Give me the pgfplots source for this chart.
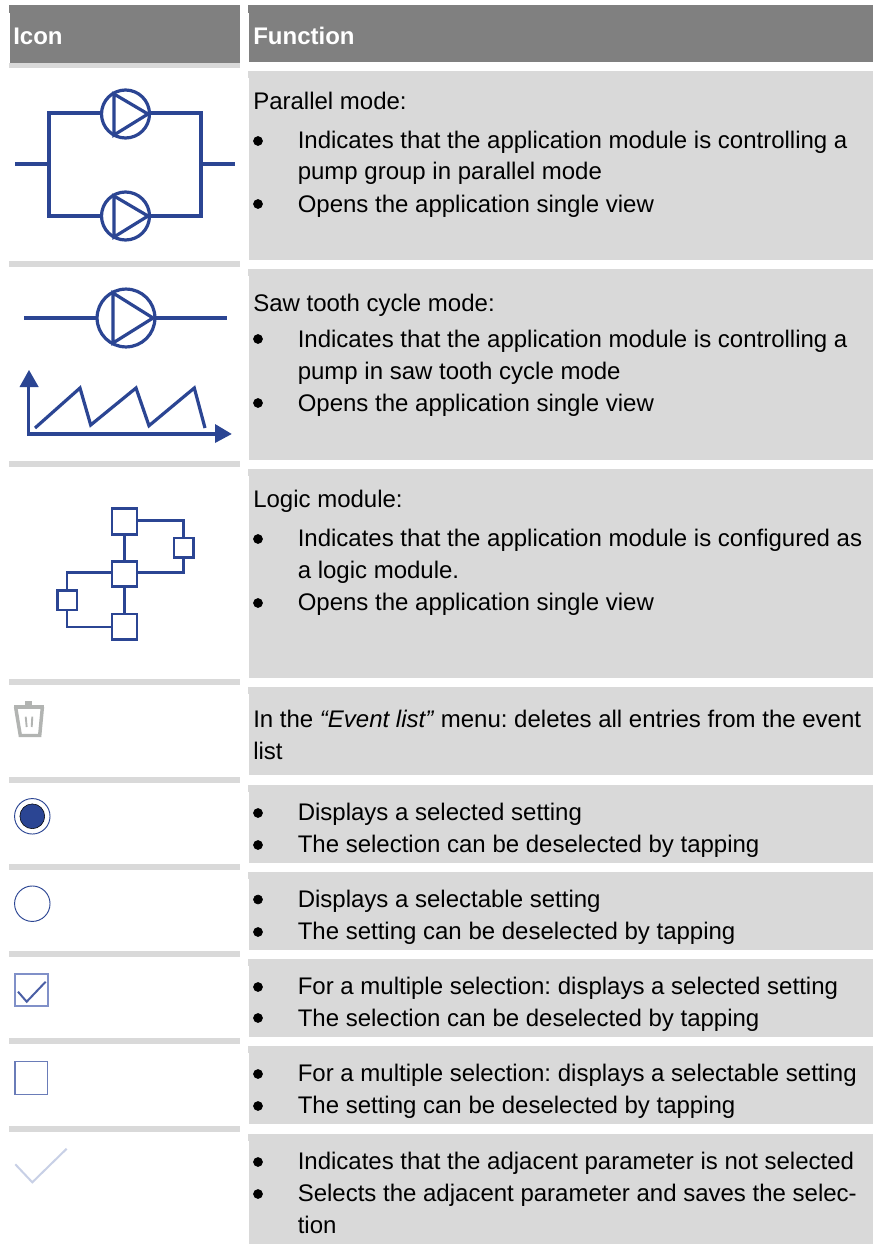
\documentclass[border=0pt]{standalone}
\usepackage{fontspec}
\setmainfont{Liberation Sans}
\usepackage{pgfplots}
\pgfplotsset{compat=1.18}
\definecolor{hd}{HTML}{808080}
\definecolor{cell}{HTML}{D9D9D9}
\definecolor{ic}{HTML}{2B4593}
\definecolor{trash}{HTML}{B2B4B2}
\frenchspacing
\newcommand{\fs}{\fontsize{18}{20}\selectfont}
\newcommand{\tx}[3]{\node[anchor=base west,inner sep=0pt,font=\fs,text=black] at (axis cs:#1,#2) {#3};}
\newcommand{\rect}[5]{\addplot[fill=#5,draw=none,forget plot] coordinates {(#1,#2)(#3,#2)(#3,#4)(#1,#4)} -- cycle;}
\newcommand{\cellbox}[2]{\rect{248}{#1}{873}{#1+7}{cell}\rect{249}{#1}{873}{#2}{cell}}
\begin{document}
\begin{tikzpicture}
\begin{axis}[
  scale only axis,width=654.75pt,height=933pt,
  xmin=0,xmax=873,ymin=0,ymax=1244,y dir=reverse,
  axis lines=none,ticks=none,clip=true]
\rect{0}{0}{873}{1244}{white}
% headers
\rect{9}{5}{240}{13}{hd}\rect{10}{5}{240}{63}{hd}
\rect{248}{5}{873}{13}{hd}\rect{249}{5}{873}{62}{hd}
% left separators
\rect{9}{63}{240}{68}{cell}
\rect{9}{261}{240}{267}{cell}
\rect{9}{461}{240}{467}{cell}
\rect{9}{679}{240}{685}{cell}
\rect{9}{777}{240}{783}{cell}
\rect{9}{864}{240}{870}{cell}
\rect{9}{951}{240}{957}{cell}
\rect{9}{1038}{240}{1044}{cell}
\rect{9}{1126}{240}{1132}{cell}
% right cells
\cellbox{71}{260}
\cellbox{269}{460}
\cellbox{469}{678}
\cellbox{687}{775}
\cellbox{785}{863}
\cellbox{872}{950}
\cellbox{959}{1037}
\cellbox{1046}{1124}
\cellbox{1134}{1244}
% parallel icon
\addplot[ic,line width=2.4pt,forget plot] coordinates {(100,113)(49,113)(49,216)(100,216)};
\addplot[ic,line width=2.4pt,forget plot] coordinates {(151,113)(201,113)(201,216)(151,216)};
\addplot[ic,line width=2.4pt,forget plot] coordinates {(15,164)(49,164)};
\addplot[ic,line width=2.4pt,forget plot] coordinates {(201,164)(235,164)};
\addplot[only marks,mark=o,mark size=18pt,mark options={draw=ic,line width=2.4pt},forget plot] coordinates {(125.5,114)(125.5,216)};
\addplot[ic,line width=2.4pt,line join=miter,forget plot] coordinates {(114,94)(148,114)(114,135)} -- cycle;
\addplot[ic,line width=2.4pt,line join=miter,forget plot] coordinates {(114,196)(148,216)(114,237)} -- cycle;
% saw tooth icon
\addplot[ic,line width=2.4pt,forget plot] coordinates {(24,318)(96,318)};
\addplot[ic,line width=2.4pt,forget plot] coordinates {(156,318)(227,318)};
\addplot[only marks,mark=o,mark size=21.7pt,mark options={draw=ic,line width=2.4pt},forget plot] coordinates {(126,318)};
\addplot[ic,line width=2.4pt,forget plot] coordinates {(113,293)(153,318)(113,343)} -- cycle;
\addplot[ic,line width=2.4pt,forget plot] coordinates {(28.5,385)(28.5,434)(216,434)};
\addplot[fill=ic,draw=none,forget plot] coordinates {(29,370)(19.5,387)(38.7,387)} -- cycle;
\addplot[fill=ic,draw=none,forget plot] coordinates {(231.7,434)(215,424)(215,443)} -- cycle;
\addplot[ic,line width=2.4pt,line join=miter,forget plot] coordinates {(35,428)(80,388)(90.7,425)(136,388)(149,425.7)(194.3,388)(205,428)};
% logic icon
\addplot[ic,line width=2.1pt,forget plot] coordinates {(124.3,534)(124.3,561)};
\addplot[ic,line width=2.1pt,forget plot] coordinates {(124.3,587)(124.3,614)};
\addplot[ic,line width=2.1pt,forget plot] coordinates {(137,520.7)(183.7,520.7)(183.7,538)};
\addplot[ic,line width=2.1pt,forget plot] coordinates {(183.7,557.7)(183.7,572.7)(137,572.7)};
\addplot[ic,line width=2.1pt,forget plot] coordinates {(112,572.7)(67,572.7)(67,590.3)};
\addplot[ic,line width=2.1pt,forget plot] coordinates {(67,610)(67,627)(112,627)};
\addplot[ic,line width=2.1pt,forget plot] coordinates {(112,508.7)(137,508.7)(137,534.3)(112,534.3)} -- cycle;
\addplot[ic,line width=2.1pt,forget plot] coordinates {(112,561.3)(137,561.3)(137,586.7)(112,586.7)} -- cycle;
\addplot[ic,line width=2.1pt,forget plot] coordinates {(112,614)(137,614)(137,639.3)(112,639.3)} -- cycle;
\addplot[ic,line width=2.1pt,forget plot] coordinates {(174,538)(193.3,538)(193.3,557.7)(174,557.7)} -- cycle;
\addplot[ic,line width=2.1pt,forget plot] coordinates {(57.3,590.3)(77,590.3)(77,610)(57.3,610)} -- cycle;
% trash
\addplot[trash,line width=2.6pt,forget plot] coordinates {(14,707)(44,707)};
\rect{25}{700.5}{32}{707}{trash}
\addplot[trash,line width=2.6pt,forget plot] coordinates {(15.6,707)(20.3,735.5)(39.7,735.5)(42.4,707)};
\addplot[trash,line width=1.4pt,forget plot] coordinates {(25.7,716.7)(26.7,727)};
\addplot[trash,line width=1.4pt,forget plot] coordinates {(32.3,716.7)(31.7,727)};
% radio
\addplot[only marks,mark=o,mark size=13.3pt,mark options={draw=ic,line width=0.7pt},forget plot] coordinates {(32.3,816.3)(32.3,903.7)};
\addplot[only marks,mark=*,mark size=9.3pt,mark options={draw=none,fill=ic},forget plot] coordinates {(32.3,816.3)};
% checkboxes
\addplot[color={rgb,255:red,128;green,144;blue,200},line width=1.3pt,forget plot] coordinates {(15,974.3)(47.7,974.3)(47.7,1006.3)(15,1006.3)} -- cycle;
\addplot[color={rgb,255:red,74;green,95;blue,165},line width=1.5pt,forget plot] coordinates {(18,991.7)(26.7,1001.7)(45.7,981.7)};
\addplot[color={rgb,255:red,106;green,124;blue,184},line width=1.2pt,forget plot] coordinates {(15,1061.3)(47.5,1061.3)(47.5,1094.3)(15,1094.3)} -- cycle;
\addplot[color={rgb,255:red,200;green,208;blue,230},line width=1.5pt,forget plot] coordinates {(15.3,1164.3)(32.3,1182.3)(66.7,1148.7)};
% bullets
\addplot[only marks,mark=*,mark size=3.4pt,mark options={draw=none,fill=black},forget plot] coordinates {(258,141)(258,204)(258,339)(258,403)(258,539)(258,603)(258,813)(258,845)(258,899.5)(258,932)(258,987)(258,1018)(258,1074)(258,1106)(258,1162)(258,1194)};
% text
\node[anchor=base west,inner sep=0pt,font=\fs\bfseries,text=white] at (axis cs:13,45) {Icon};
\node[anchor=base west,inner sep=0pt,font=\fs\bfseries,text=white] at (axis cs:253,45) {Function};
\tx{253}{110}{Parallel mode:}
\tx{297.5}{148}{Indicates that the application module is controlling a}
\tx{297.5}{179.5}{pump group in parallel mode}
\tx{297.5}{212}{Opens the application single view}
\tx{253}{311}{Saw tooth cycle mode:}
\tx{297.5}{347}{Indicates that the application module is controlling a}
\tx{297.5}{379}{pump in saw tooth cycle mode}
\tx{297.5}{411}{Opens the application single view}
\tx{253}{507}{Logic module:}
\tx{297.5}{546}{Indicates that the application module is configured as}
\tx{297.5}{578}{a logic module.}
\tx{297.5}{610}{Opens the application single view}
\tx{253}{727}{In the \textit{“Event list”} menu: deletes all entries from the event}
\tx{253}{759}{list}
\tx{297.5}{820}{Displays a selected setting}
\tx{297.5}{852}{The selection can be deselected by tapping}
\tx{297.5}{907}{Displays a selectable setting}
\tx{297.5}{939}{The setting can be deselected by tapping}
\tx{297.5}{994}{For a multiple selection: displays a selected setting}
\tx{297.5}{1026}{The selection can be deselected by tapping}
\tx{297.5}{1081}{For a multiple selection: displays a selectable setting}
\tx{297.5}{1113}{The setting can be deselected by tapping}
\tx{297.5}{1169}{Indicates that the adjacent parameter is not selected}
\tx{297.5}{1201}{Selects the adjacent parameter and saves the selec-}
\tx{297.5}{1233}{tion}
\end{axis}
\end{tikzpicture}
\end{document}
